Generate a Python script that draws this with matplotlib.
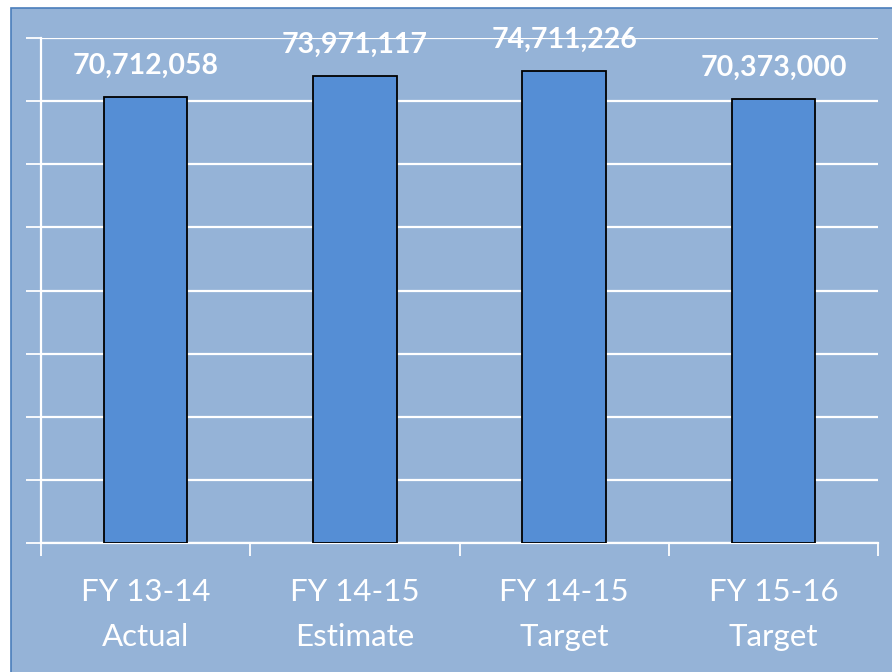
import matplotlib
matplotlib.use("Agg")
import matplotlib.pyplot as plt
from matplotlib.patches import Rectangle
import numpy as np

categories = ["FY 13-14\nActual", "FY 14-15\nEstimate", "FY 14-15\nTarget", "FY 15-16\nTarget"]
values = [70712058, 73971117, 74711226, 70373000]
value_labels = ["70,712,058", "73,971,117", "74,711,226", "70,373,000"]

plt.rcParams['font.family'] = ['Lato', 'DejaVu Sans']

fig = plt.figure(figsize=(8.92, 6.72), dpi=100)
fig.patch.set_facecolor('white')
panel = Rectangle((11/892, -0.01), 1 - 11/892 + 0.01, 1 - 8/672 + 0.01, transform=fig.transFigure,
                  facecolor='#95B3D7', edgecolor='#4A7EBB', linewidth=1.2, zorder=-10)
fig.patches.append(panel)

ax = fig.add_axes([41/892, 1 - 543/672, (878 - 41)/892, (543 - 38)/672])
ax.set_facecolor('none')
ax.set_zorder(5)

x = np.arange(len(categories))
ax.bar(x, values, width=0.4, color='#558ED5', edgecolor='black', linewidth=1.3, zorder=3)

for xi, v, lab in zip(x, values, value_labels):
    ax.annotate(lab, (xi, v), xytext=(0, 13), textcoords='offset points',
                ha='center', va='bottom', color='white', fontsize=20.5, fontweight='bold', zorder=4)

ax.set_ylim(0, 80000000)
ax.set_xlim(-0.5, 3.5)
ax.set_yticks(np.arange(0, 80000001, 10000000))
ax.set_yticklabels([])
ax.yaxis.grid(True, color='white', linewidth=1.6, zorder=1)
ax.set_axisbelow(True)

ax.set_xticks(x)
ax.set_xticklabels(categories, color='white', fontsize=22.5, linespacing=1.75)
ax.set_xticks(np.arange(-0.5, 3.6, 1), minor=True)
ax.tick_params(axis='x', which='major', length=0, pad=25)
ax.tick_params(axis='x', which='minor', length=9, width=1.3, color='white', direction='out')
ax.tick_params(axis='y', which='major', length=11, width=1.3, color='white', direction='out')

for s in ['top', 'right']:
    ax.spines[s].set_visible(False)
for s in ['left', 'bottom']:
    ax.spines[s].set_color('white')
    ax.spines[s].set_linewidth(1.6)

fig.savefig('out.png', dpi=100, facecolor=fig.get_facecolor())
